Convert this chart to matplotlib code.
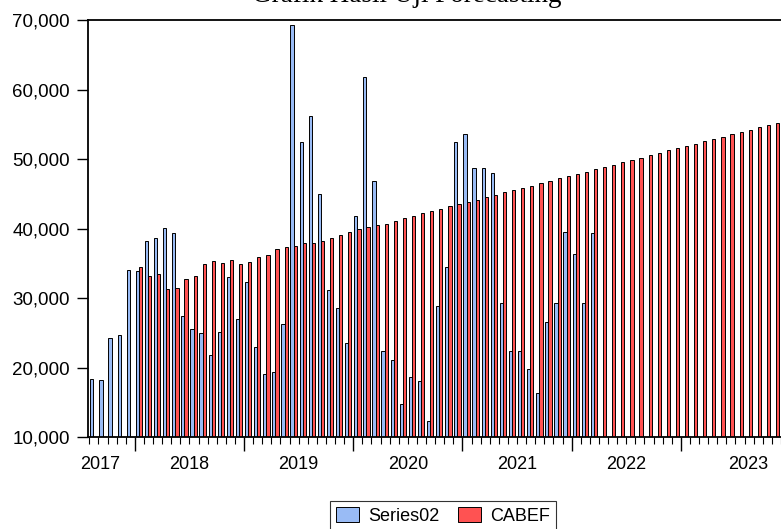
import numpy as np
import matplotlib
matplotlib.use("Agg")
from matplotlib import pyplot as plt
from matplotlib.patches import Patch
from matplotlib.ticker import FuncFormatter, FixedLocator

# monthly data, Aug 2017 .. Nov 2023
start_year, start_month = 2017, 8
n_months = 76

# actual series (Aug 2017 .. Mar 2022)
series02 = [
    18400, 18300, 24300, 24800, 34100,
    33960, 38230, 38710, 40200, 39480, 27430, 25600, 25070, 21900, 25170, 33090, 27090,
    32370, 23050, 19070, 19400, 26370, 69400, 52470, 56220, 44980, 31190, 28640, 23600,
    41850, 61930, 46850, 22400, 21150, 14810, 18650, 18130, 12410, 28880, 34550, 52470,
    53720, 48720, 48720, 48100, 29370, 22400, 22400, 19900, 16400, 26580, 29410, 39600,
    36450, 29330, 39380,
]
# forecast series (Jan 2018 .. Nov 2023)
cabef = [
    34530, 33240, 33530, 31320, 31560, 32850, 33190, 35010, 35400, 35160, 35540, 35010,
    35250, 35970, 36310, 37130, 37460, 37610, 37950, 37980, 38300, 38730, 39120, 39600,
    39930, 40220, 40600, 40750, 41130, 41520, 41850, 42240, 42620, 42910, 43250, 43540,
    43870, 44210, 44590, 44930, 45260, 45550, 45940, 46220, 46610, 46900, 47280, 47570,
    47900, 48240, 48580, 48910, 49250, 49590, 49920, 50260, 50600, 50930, 51320, 51600,
    51940, 52280, 52610, 52950, 53290, 53620, 53960, 54300, 54630, 54920, 55300,
]
cabef_offset = 5  # CABEF begins in Jan 2018

year_labels = ["2017", "2018", "2019", "2020", "2021", "2022", "2023"]
year_label_pos = [1.2, 11, 23, 35, 47, 59, 72.4]
title = "Grafik Hasil Uji Forecasting"

blue = "#99BBF5"
red = "#FF5252"

fig = plt.figure(figsize=(7.81, 5.29), dpi=100)
ax = fig.add_axes([88 / 781, 1 - 437.4 / 529, 1 - 88 / 781, (437.4 - 20.5) / 529])

w = 0.35
x_s = np.arange(len(series02))
x_c = np.arange(len(cabef)) + cabef_offset
ax.bar(x_s + 0.1, series02, width=w, align="edge", color=blue,
       edgecolor="black", linewidth=0.7)
ax.bar(x_c + 0.1 + w, cabef, width=w, align="edge", color=red,
       edgecolor="black", linewidth=0.7)

ax.set_ylim(10000, 70000)
ax.set_xlim(-0.15, n_months)
ax.set_yticks(np.arange(10000, 70001, 10000))
ax.yaxis.set_major_formatter(FuncFormatter(lambda v, p: f"{int(v):,}"))

# year boundaries as major ticks, months as minor ticks
year_starts = [m for m in range(n_months + 1) if (start_month - 1 + m) % 12 == 0]
ax.xaxis.set_major_locator(FixedLocator(year_starts))
ax.xaxis.set_minor_locator(FixedLocator(range(n_months + 1)))
ax.set_xticklabels([])
ax.tick_params(axis="x", which="major", length=10, width=1.0, direction="out")
ax.tick_params(axis="x", which="minor", length=5, width=0.8, direction="out")
ax.tick_params(axis="y", length=8, width=1.0, direction="out", labelsize=13.5, pad=5)
for lbl, pos in zip(year_labels, year_label_pos):
    ax.text(pos, -0.045, lbl, transform=ax.get_xaxis_transform(), ha="center",
            va="top", fontsize=13, fontfamily="Liberation Sans")
for t in ax.get_yticklabels():
    t.set_fontfamily("Liberation Sans")

for s in ["left", "top", "bottom"]:
    ax.spines[s].set_linewidth(1.3)
ax.spines["right"].set_visible(False)

fig.text(407 / 781, 1 - 1.5 / 529, title, ha="center", va="baseline",
         fontsize=19.5, fontfamily="Liberation Serif")

handles = [Patch(facecolor=blue, edgecolor="black", linewidth=0.7, label="Series02"),
           Patch(facecolor=red, edgecolor="black", linewidth=0.7, label="CABEF")]
leg = fig.legend(handles=handles, loc="upper center", bbox_to_anchor=(443 / 781, 1 - 501 / 529),
                 ncol=2, frameon=True, fancybox=False, edgecolor="black",
                 prop={"family": "Liberation Sans", "size": 13},
                 handlelength=1.3, handleheight=0.85, handletextpad=0.5,
                 columnspacing=1.0, borderpad=0.35, borderaxespad=0)
leg.get_frame().set_linewidth(0.8)

fig.savefig("out.png", dpi=100)
